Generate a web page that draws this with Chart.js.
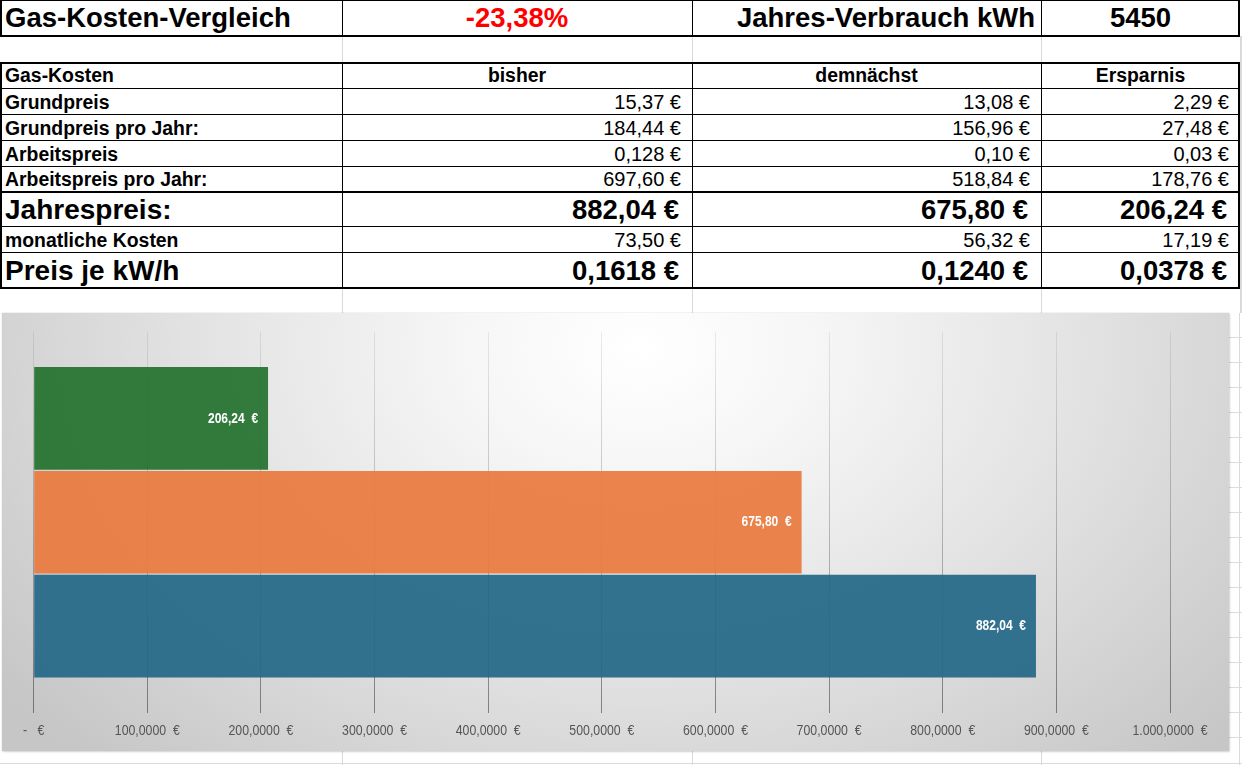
<!DOCTYPE html>
<html><head><meta charset="utf-8">
<script src="https://cdn.jsdelivr.net/npm/chart.js@4.4.1/dist/chart.umd.min.js"></script>
<style>
html,body{margin:0;padding:0;background:#fff;width:1242px;height:765px;overflow:hidden;}
body{position:relative;font-family:"Liberation Sans",Arial,sans-serif;color:#000;}
.c{position:absolute;display:flex;align-items:center;white-space:pre;box-sizing:border-box;line-height:1;}
.ln{position:absolute;background:#000;}
.gl{position:absolute;background:#d9d9d9;}
#chartBox{position:absolute;left:2px;top:313px;width:1227px;height:438px;
 background:radial-gradient(ellipse 65% 130% at 52% 8%, #ffffff 0%, #f6f6f6 22%, #e3e3e3 55%, #c6c6c6 100%);
 box-shadow:0 0 1px rgba(0,0,0,0.25), 1px 1px 2px rgba(0,0,0,0.15);}
#rightStrip{position:absolute;left:1229px;top:313px;width:13px;height:438px;
 background:repeating-linear-gradient(to bottom, transparent 0, transparent 24px, #dcdcdc 24px, #dcdcdc 25px);}
</style>
</head><body>
<div id="sheet"></div>
<div id="rightStrip"></div>
<div id="chartBox"><canvas id="cv" width="1227" height="438"></canvas></div>
<script>
// ---- chart data ----
const seriesNames = ['Ersparnis', 'demnächst', 'bisher'];
const jahrespreis = [206.24, 675.80, 882.04];
const barValueLabels = ['206,24  €', '675,80  €', '882,04  €'];
const categoryLabels = ['Jahrespreis'];
const tickValues = [0, 100, 200, 300, 400, 500, 600, 700, 800, 900, 1000];
const tickLabels = ['-   €', '100,0000  €', '200,0000  €', '300,0000  €', '400,0000  €', '500,0000  €',
  '600,0000  €', '700,0000  €', '800,0000  €', '900,0000  €', '1.000,0000  €'];
const barColors = ['rgba(36,114,47,0.93)', 'rgba(234,122,64,0.93)', 'rgba(35,104,136,0.93)'];

// ---- table texts ----
const colX = [0, 342, 692, 1041, 1240];
const headRow = ['Gas-Kosten', 'bisher', 'demnächst', 'Ersparnis'];
const tableRows = [
  ['Grundpreis', '15,37 €', '13,08 €', '2,29 €'],
  ['Grundpreis pro Jahr:', '184,44 €', '156,96 €', '27,48 €'],
  ['Arbeitspreis', '0,128 €', '0,10 €', '0,03 €'],
  ['Arbeitspreis pro Jahr:', '697,60 €', '518,84 €', '178,76 €'],
  ['Jahrespreis:', '882,04 €', '675,80 €', '206,24 €'],
  ['monatliche Kosten', '73,50 €', '56,32 €', '17,19 €'],
  ['Preis je kW/h', '0,1618 €', '0,1240 €', '0,0378 €']
];
const rowY = [89, 115, 141, 167, 192, 227, 253, 288];
const bigRows = [4, 6];

const sheet = document.getElementById('sheet');
function el(cls, x, y, w, h, css) {
  const d = document.createElement('div');
  d.className = cls;
  d.style.left = x + 'px'; d.style.top = y + 'px';
  d.style.width = w + 'px'; d.style.height = h + 'px';
  if (css) Object.assign(d.style, css);
  sheet.appendChild(d);
  return d;
}
function cell(ci, y0, y1, text, align, font, extra) {
  const x0 = colX[ci], x1 = colX[ci + 1];
  const d = el('c', x0, y0, x1 - x0, y1 - y0, Object.assign({
    font: font,
    justifyContent: align === 'l' ? 'flex-start' : (align === 'r' ? 'flex-end' : 'center'),
    paddingLeft: align === 'l' ? '5px' : '0',
    paddingRight: align === 'r' ? '11px' : '0'
  }, extra || {}));
  d.textContent = text;
}
// light sheet gridlines
[[36, 62], [288, 313], [751, 765]].forEach(([a, b]) => {
  [342, 692, 1041].forEach(x => el('gl', x, a, 1, b - a));
});
el('gl', 0, 763, 1242, 1);
el('gl', 1239, 313, 1, 452);
el('gl', 1240, 36, 2, 277);

// Row 1
const big1 = 'bold 27.5px "Liberation Sans", Arial, sans-serif';
cell(0, 0, 36, 'Gas-Kosten-Vergleich', 'l', big1);
cell(1, 0, 36, '-23,38%', 'c', big1, {color: '#ff0000'});
cell(2, 0, 36, 'Jahres-Verbrauch kWh', 'r', big1, {paddingRight: '6px'});
cell(3, 0, 36, '5450', 'c', big1);
// Header / rows
const b20 = 'bold 19.4px "Liberation Sans", Arial, sans-serif';
const n20 = '20px "Liberation Sans", Arial, sans-serif';
const b28 = 'bold 27.5px "Liberation Sans", Arial, sans-serif';
headRow.forEach((t, i) => cell(i, 62, 89, t, i === 0 ? 'l' : 'c', b20));
tableRows.forEach((r, ri) => {
  const isBig = bigRows.indexOf(ri) >= 0;
  r.forEach((t, ci) => {
    if (ci === 0) cell(0, rowY[ri], rowY[ri + 1], t, 'l', isBig ? 'bold 28px "Liberation Sans", Arial, sans-serif' : b20);
    else cell(ci, rowY[ri], rowY[ri + 1], t, 'r', isBig ? b28 : n20, {paddingRight: isBig ? '13px' : '11px'});
  });
});
// Black borders
function hl(y, t) { el('ln', 0, y, 1240, t); }
hl(0, 1); hl(35, 2); hl(62, 2);
[88, 114, 140, 166, 226, 252].forEach(y => hl(y, 1));
hl(191, 2); hl(287, 2);
function vl(x, y0, y1, t) { el('ln', x, y0, t, y1 - y0); }
[[0, 37], [62, 289]].forEach(([a, b]) => {
  vl(0, a, b, 2); vl(1238, a, b, 2);
  [342, 692, 1041].forEach(x => vl(x, a, b, 1));
});

// ---- Chart ----
function narrowText(ctx, text, x, y, sx) {
  ctx.save();
  ctx.translate(x, y);
  ctx.scale(sx, 1);
  ctx.fillText(text, 0, 0);
  ctx.restore();
}
const valueLabelPlugin = {
  id: 'valueLabels',
  afterDatasetsDraw(chart) {
    const ctx = chart.ctx;
    ctx.save();
    ctx.fillStyle = '#ffffff';
    ctx.font = 'bold 15px "Liberation Sans", Arial, sans-serif';
    ctx.textAlign = 'right';
    ctx.textBaseline = 'middle';
    chart.data.datasets.forEach((ds, i) => {
      const meta = chart.getDatasetMeta(i);
      meta.data.forEach(bar => narrowText(ctx, barValueLabels[i], bar.x - 10, bar.y, 0.8));
    });
    ctx.restore();
  }
};
const tickLabelPlugin = {
  id: 'narrowTicks',
  afterDraw(chart) {
    const sc = chart.scales.x;
    const ctx = chart.ctx;
    ctx.save();
    ctx.fillStyle = '#555555';
    ctx.font = '15px "Liberation Sans", Arial, sans-serif';
    ctx.textAlign = 'center';
    ctx.textBaseline = 'middle';
    sc.ticks.forEach((t, i) => {
      narrowText(ctx, tickLabels[i], sc.getPixelForValue(t.value), chart.chartArea.bottom + 18.5, 0.82);
    });
    ctx.restore();
  }
};

const gridColor = (c) => {
  const ch = c.chart;
  const a = ch.chartArea;
  if (!a) return 'rgba(0,0,0,0.25)';
  const g = ch.ctx.createLinearGradient(0, a.top, 0, a.bottom);
  g.addColorStop(0, 'rgba(0,0,0,0.07)');
  g.addColorStop(0.5, 'rgba(0,0,0,0.22)');
  g.addColorStop(1, 'rgba(0,0,0,0.42)');
  return g;
};

new Chart(document.getElementById('cv'), {
  type: 'bar',
  data: {
    labels: categoryLabels,
    datasets: seriesNames.map((n, i) => ({
      label: n,
      data: [jahrespreis[i]],
      backgroundColor: barColors[i],
      borderWidth: 0,
      categoryPercentage: 0.819,
      barPercentage: 0.988
    }))
  },
  options: {
    indexAxis: 'y',
    responsive: false,
    animation: false,
    devicePixelRatio: 1,
    layout: {padding: {left: 31.7, right: 59, top: 19, bottom: 38.5}},
    plugins: {legend: {display: false}, tooltip: {enabled: false}},
    scales: {
      x: {
        min: 0, max: 1000,
        afterBuildTicks: (s) => { s.ticks = tickValues.map(v => ({value: v})); },
        ticks: {display: false},
        grid: {color: gridColor, lineWidth: 1, drawTicks: false},
        border: {display: false}
      },
      y: {display: false, grid: {display: false}}
    }
  },
  plugins: [valueLabelPlugin, tickLabelPlugin]
});
</script>
</body></html>
